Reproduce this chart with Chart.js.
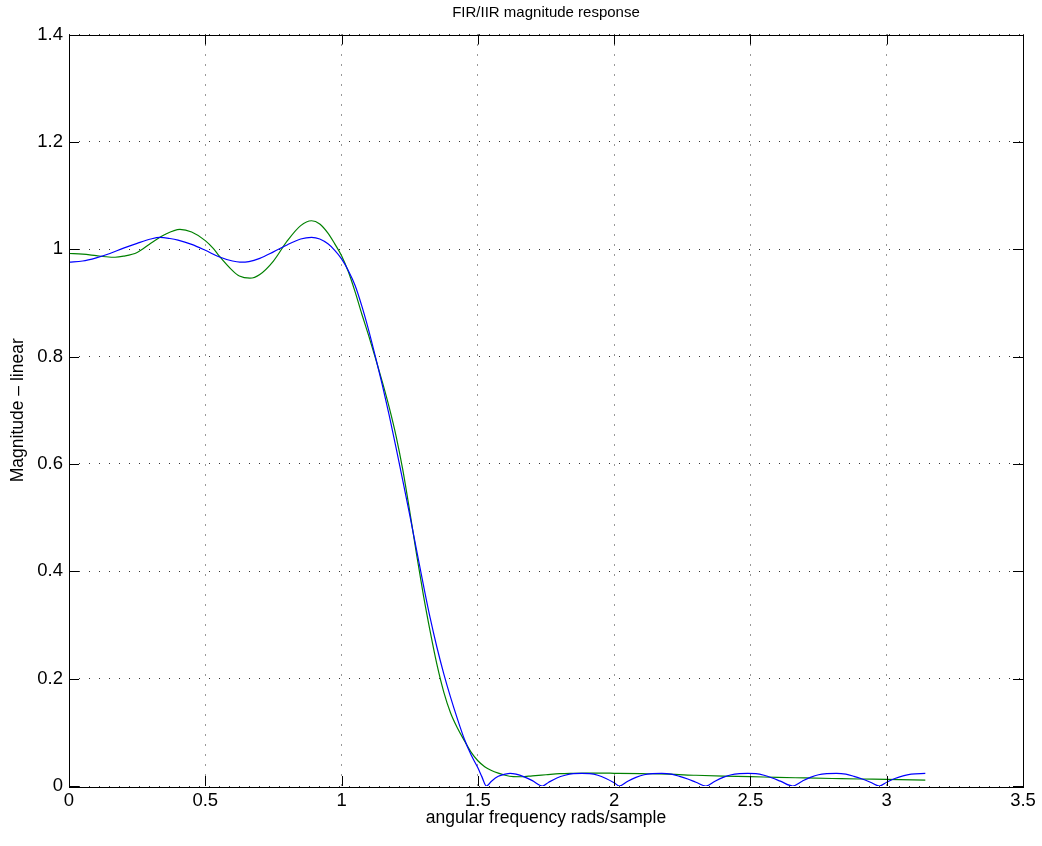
<!DOCTYPE html>
<html>
<head>
<meta charset="utf-8">
<script src="https://cdn.jsdelivr.net/npm/chart.js@4.4.1/dist/chart.umd.min.js"></script>
<style>
  html, body { margin: 0; padding: 0; background: #ffffff; }
  #wrap { width: 1042px; height: 846px; }
</style>
</head>
<body>
<div id="wrap"><canvas id="c" width="1042" height="846"></canvas></div>
<script>
// ---- data ----
const chartTitle = 'FIR/IIR magnitude response';
const xAxisTitle = 'angular frequency rads/sample';
const yAxisTitle = 'Magnitude \u2013 linear';

const xTickValues = [0, 0.5, 1, 1.5, 2, 2.5, 3, 3.5];
const xTickLabels = ['0', '0.5', '1', '1.5', '2', '2.5', '3', '3.5'];
const yTickValues = [0, 0.2, 0.4, 0.6, 0.8, 1, 1.2, 1.4];
const yTickLabels = ['0', '0.2', '0.4', '0.6', '0.8', '1', '1.2', '1.4'];

// FIR (blue)
const firFreq = [0, 0.05, 0.1, 0.15, 0.2, 0.25, 0.3, 0.334, 0.37, 0.4, 0.45, 0.5, 0.55, 0.6, 0.627, 0.66, 0.7, 0.75, 0.8, 0.85, 0.89, 0.92, 0.95, 0.975,
  1.0, 1.025, 1.05, 1.075, 1.1, 1.125, 1.15, 1.175, 1.2, 1.225, 1.25, 1.275, 1.3, 1.325, 1.35, 1.375, 1.4, 1.425, 1.45, 1.475, 1.5, 1.515, 1.531,
  1.55, 1.575, 1.6, 1.618, 1.64, 1.67, 1.70, 1.737,
  1.76, 1.79, 1.82, 1.85, 1.881, 1.91, 1.94, 1.97, 2.0, 2.019,
  2.05, 2.08, 2.11, 2.14, 2.174, 2.21, 2.24, 2.27, 2.30, 2.337,
  2.37, 2.40, 2.43, 2.46, 2.49, 2.52, 2.55, 2.58, 2.61, 2.655,
  2.69, 2.72, 2.75, 2.78, 2.816, 2.85, 2.88, 2.91, 2.94, 2.973,
  3.0, 3.03, 3.06, 3.09, 3.1416];
const firMag = [0.976, 0.978, 0.984, 0.992, 1.002, 1.011, 1.019, 1.022, 1.020, 1.017, 1.009, 0.998, 0.986, 0.978, 0.976, 0.977, 0.983, 0.995, 1.008, 1.019, 1.022, 1.019, 1.010, 0.998,
  0.982, 0.960, 0.932, 0.893, 0.848, 0.798, 0.746, 0.690, 0.630, 0.568, 0.505, 0.440, 0.375, 0.313, 0.258, 0.209, 0.165, 0.125, 0.088, 0.058, 0.034, 0.017, 0.0,
  0.009, 0.018, 0.022, 0.0235, 0.022, 0.017, 0.010, 0.0,
  0.007, 0.015, 0.020, 0.023, 0.0235, 0.023, 0.020, 0.014, 0.006, 0.0,
  0.009, 0.016, 0.021, 0.023, 0.0235, 0.022, 0.018, 0.013, 0.007, 0.0,
  0.009, 0.016, 0.021, 0.023, 0.0235, 0.023, 0.020, 0.015, 0.009, 0.0,
  0.009, 0.016, 0.021, 0.023, 0.0235, 0.022, 0.018, 0.013, 0.007, 0.0,
  0.007, 0.014, 0.019, 0.022, 0.0235];

// IIR (green)
const iirFreq = [0, 0.05, 0.1, 0.135, 0.169, 0.2, 0.25, 0.3, 0.35, 0.407, 0.45, 0.5, 0.53, 0.55, 0.6, 0.625, 0.664, 0.7, 0.75, 0.8, 0.85, 0.89, 0.92, 0.95, 0.975,
  1.0, 1.025, 1.05, 1.075, 1.1, 1.125, 1.15, 1.175, 1.2, 1.225, 1.25, 1.275, 1.3, 1.325, 1.35, 1.375, 1.4, 1.425, 1.45,
  1.475, 1.5, 1.525, 1.55, 1.575, 1.6, 1.63, 1.66, 1.7, 1.75, 1.8, 1.85, 1.9, 1.95, 2.0, 2.1, 2.2, 2.3, 2.4, 2.5, 2.6, 2.7, 2.8, 2.9, 3.0, 3.1416];
const iirMag = [0.992, 0.991, 0.988, 0.986, 0.985, 0.987, 0.994, 1.011, 1.027, 1.037, 1.032, 1.016, 1.001, 0.988, 0.960, 0.950, 0.946, 0.953, 0.978, 1.015, 1.044, 1.053, 1.047, 1.030, 1.010,
  0.988, 0.958, 0.920, 0.878, 0.838, 0.796, 0.752, 0.705, 0.652, 0.588, 0.512, 0.432, 0.356, 0.288, 0.226, 0.175, 0.136, 0.108, 0.085,
  0.063, 0.047, 0.036, 0.029, 0.024, 0.020, 0.0175, 0.0172, 0.019, 0.021, 0.023, 0.0237, 0.024, 0.024, 0.0237, 0.023, 0.022, 0.020, 0.0185, 0.0174, 0.016, 0.015, 0.014, 0.013, 0.0125, 0.011];

// ---- chart ----
const FONT = "'Liberation Sans', Arial, Helvetica, sans-serif";
const toPoints = (xs, ys) => xs.map((x, i) => ({ x: x, y: ys[i] }));

const boxPlugin = {
  id: 'boxTicks',
  afterDatasetsDraw(chart) {
    const { ctx, chartArea: a, scales } = chart;
    const L = 10;
    ctx.save();
    ctx.strokeStyle = '#000';
    ctx.lineWidth = 1;
    ctx.beginPath();
    xTickValues.forEach(v => {
      const px = Math.round(scales.x.getPixelForValue(v)) + 0.5;
      ctx.moveTo(px, a.bottom); ctx.lineTo(px, a.bottom - L);
      ctx.moveTo(px, a.top); ctx.lineTo(px, a.top + L);
    });
    yTickValues.forEach(v => {
      const py = Math.round(scales.y.getPixelForValue(v)) + 0.5;
      ctx.moveTo(a.left, py); ctx.lineTo(a.left + L, py);
      ctx.moveTo(a.right, py); ctx.lineTo(a.right - L, py);
    });
    ctx.stroke();
    ctx.strokeRect(Math.round(a.left) + 0.5, Math.round(a.top) + 0.5, Math.round(a.right - a.left), Math.round(a.bottom - a.top));
    ctx.restore();
  }
};

new Chart(document.getElementById('c'), {
  type: 'line',
  data: {
    datasets: [
      { label: 'FIR', data: toPoints(firFreq, firMag), borderColor: '#0000ff', borderWidth: 1.2,
        pointRadius: 0, fill: false, cubicInterpolationMode: 'monotone' },
      { label: 'IIR', data: toPoints(iirFreq, iirMag), borderColor: '#008000', borderWidth: 1.2,
        pointRadius: 0, fill: false, cubicInterpolationMode: 'monotone' }
    ]
  },
  options: {
    responsive: false,
    animation: false,
    devicePixelRatio: 1,
    layout: { padding: { left: 0, right: 19, top: 0, bottom: 0 } },
    plugins: {
      legend: { display: false },
      tooltip: { enabled: false },
      title: { display: true, text: chartTitle, color: '#000', fullSize: false,
        font: { family: FONT, size: 15, weight: 'normal', lineHeight: 1.2 },
        padding: { top: 4, bottom: 12.5 } }
    },
    scales: {
      x: {
        type: 'linear', min: 0, max: 3.5,
        afterFit: s => { s.height = 60; },
        afterBuildTicks: s => { s.ticks = xTickValues.map(v => ({ value: v })); },
        ticks: { color: '#000', font: { family: FONT, size: 18.5 }, padding: 4, maxRotation: 0,
          callback: (v) => xTickLabels[xTickValues.indexOf(v)] },
        grid: { color: '#333', drawTicks: false, lineWidth: 1 },
        border: { display: false, dash: [1, 9] },
        title: { display: true, text: xAxisTitle, color: '#000',
          font: { family: FONT, size: 17.5, lineHeight: 1.2 }, padding: { top: 0, bottom: 17.5 } }
      },
      y: {
        type: 'linear', min: 0, max: 1.4,
        afterFit: s => { s.width = 69; },
        afterBuildTicks: s => { s.ticks = yTickValues.map(v => ({ value: v })); },
        ticks: { color: '#000', font: { family: FONT, size: 18.5 }, padding: 6,
          callback: (v) => yTickLabels[yTickValues.indexOf(v)] },
        grid: { color: '#333', drawTicks: false, lineWidth: 1 },
        border: { display: false, dash: [1, 9] },
        title: { display: true, text: yAxisTitle, color: '#000',
          font: { family: FONT, size: 17.5, lineHeight: 1.2 }, padding: { top: 7.5, bottom: 0 } }
      }
    }
  },
  plugins: [boxPlugin]
});
</script>
</body>
</html>
